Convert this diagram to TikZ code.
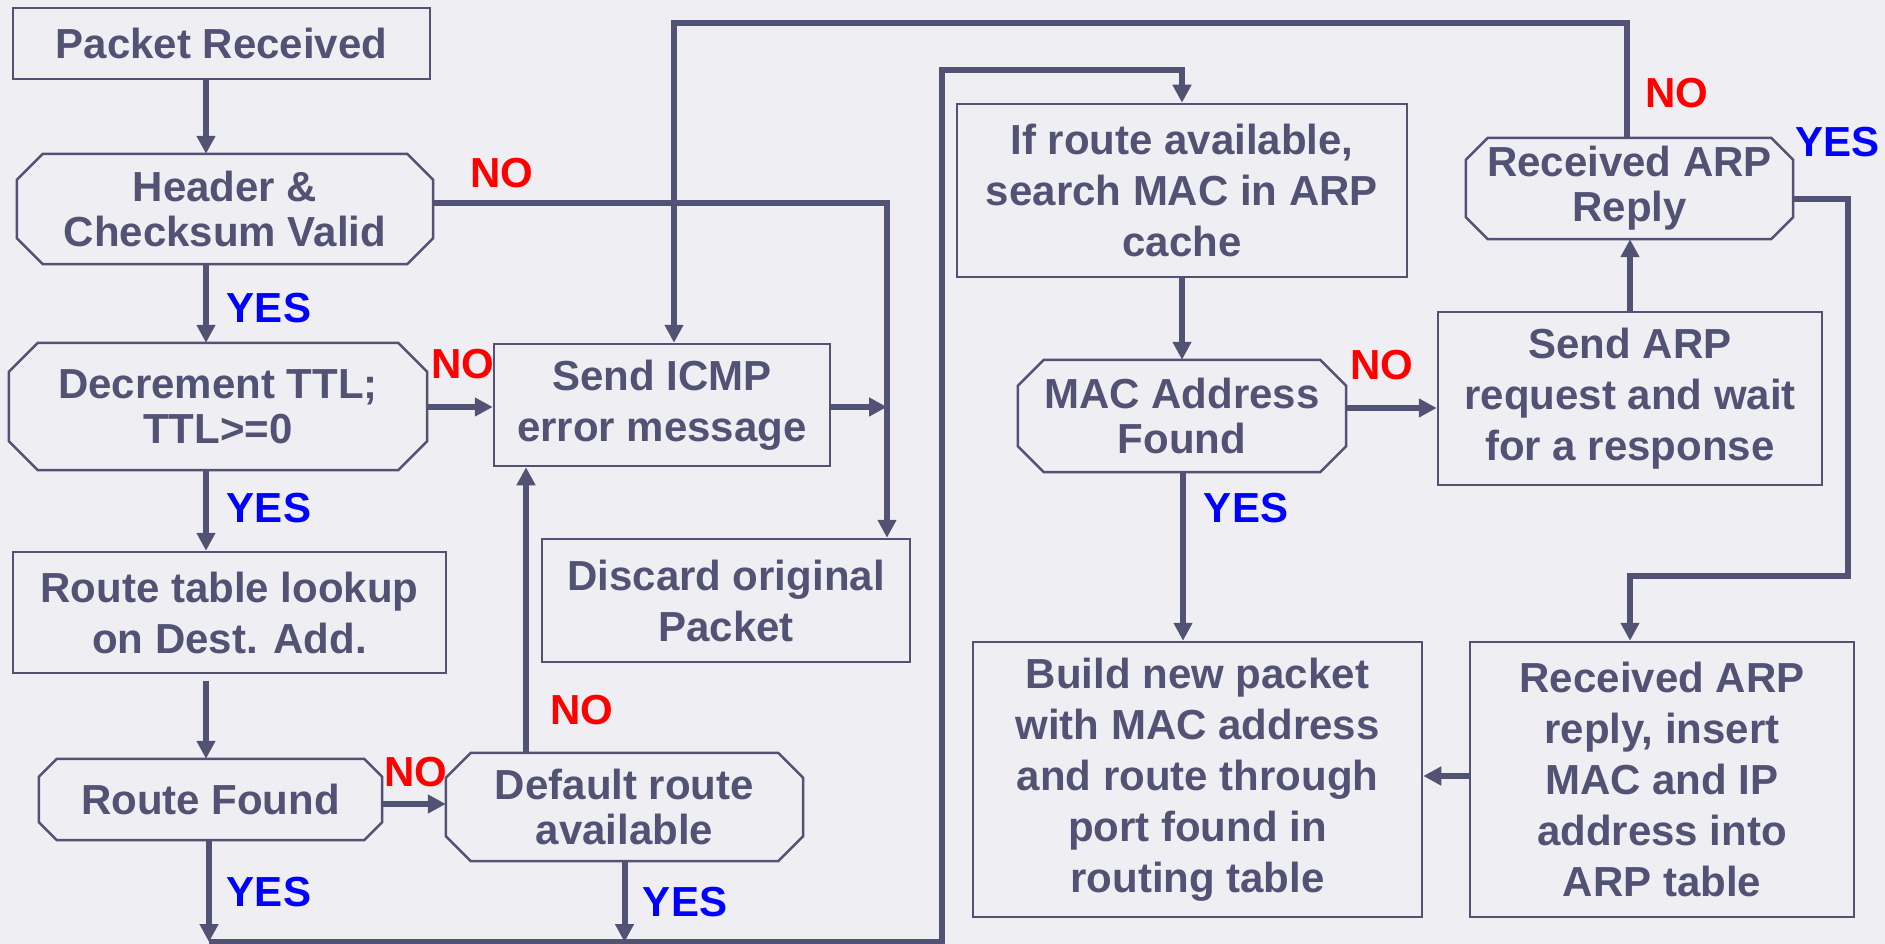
\documentclass[tikz,border=0pt]{standalone}
\usepackage{fontspec}
\setmainfont{Liberation Sans}
\usetikzlibrary{arrows.meta}
\definecolor{ink}{RGB}{82,82,116}
\definecolor{bgcol}{RGB}{239,239,243}
\definecolor{nored}{RGB}{255,0,0}
\definecolor{yesblue}{RGB}{0,0,255}
\newcommand\octframe[2]{\draw[ink, line width=2.5pt, line join=miter]
  ([xshift=#2pt]#1.north west) -- ([xshift=-#2pt]#1.north east) --
  ([yshift=-#2pt]#1.north east) -- ([yshift=#2pt]#1.south east) --
  ([xshift=-#2pt]#1.south east) -- ([xshift=#2pt]#1.south west) --
  ([yshift=#2pt]#1.south west) -- ([yshift=-#2pt]#1.north west) -- cycle;}
\begin{document}
\begin{tikzpicture}[x=1pt,y=-1pt,
  every node/.style={font=\fontsize{42}{51}\selectfont\bfseries, text=ink, align=center, inner sep=0pt},
  procbox/.style={draw=ink, line width=2.5pt, rectangle},
  decbox/.style={rectangle, font=\fontsize{42}{45}\selectfont\bfseries},
  link/.style={draw=ink, line width=6pt},
  arr/.style={link, -{Triangle[length=18pt,width=18pt]}},
  nolab/.style={text=nored},
  yeslab/.style={text=yesblue}]
\fill[bgcol] (0,0) rectangle (1885,944);
\useasboundingbox (0,0) rectangle (1885,944);

% nodes
\node[procbox, minimum width=417pt, minimum height=71pt] (pr) at (221.5,43.5) {Packet Received};
\node[decbox, minimum width=416pt, minimum height=110pt] (hc) at (225,209) {Header \&\\Checksum Valid};
\node[decbox, minimum width=418pt, minimum height=127pt] (dt) at (218,406.5) {Decrement TTL;\\TTL>=0};
\node[procbox, minimum width=433pt, minimum height=121pt] (rt) at (229.5,612.5) {Route table lookup\\on Dest. Add.};
\node[decbox, minimum width=343pt, minimum height=81pt] (rf) at (210.5,799.5) {Route Found};
\node[decbox, minimum width=357pt, minimum height=108pt] (dr) at (624.5,807) {Default route\\available};
\node[procbox, minimum width=336pt, minimum height=122pt] (icmp) at (662,405) {Send ICMP\\error message};
\node[procbox, minimum width=368pt, minimum height=123pt] (disc) at (726,600.5) {Discard original\\Packet};
\node[procbox, minimum width=450pt, minimum height=173pt] (ifr) at (1182,190.5) {If route available,\\search MAC in ARP\\cache};
\node[decbox, minimum width=328pt, minimum height=112pt] (mac) at (1182,416) {MAC Address\\Found};
\node[procbox, minimum width=449pt, minimum height=275pt] (build) at (1197.5,779.5) {Build new packet\\with MAC address\\and route through\\port found in\\routing table};
\node[procbox, minimum width=384pt, minimum height=173pt] (sarp) at (1630,398.5) {Send ARP\\request and wait\\for a response};
\node[decbox, minimum width=327pt, minimum height=101pt] (rarp) at (1629.5,188.5) {Received ARP\\Reply};
\node[procbox, minimum width=384pt, minimum height=275pt] (rins) at (1662,779.5) {Received ARP\\reply, insert\\MAC and IP\\address into\\ARP table};

\octframe{hc}{26}
\octframe{dt}{29}
\octframe{rf}{18}
\octframe{dr}{25}
\octframe{mac}{26}
\octframe{rarp}{22}

% helper coordinates
\coordinate (xa) at (206,0);
\coordinate (bl) at (209,942);
\coordinate (br) at (942,942);
\coordinate (tr) at (942,70);
\coordinate (yrf) at (0,804);
\coordinate (xdr) at (526,0);
\coordinate (j1) at (887,203);
\coordinate (yd) at (0,407);
\coordinate (t1) at (1627,23);
\coordinate (t2) at (674,23);
\coordinate (ym) at (0,408);
\coordinate (xb) at (1183,0);
\coordinate (r1) at (1848,199);
\coordinate (r2) at (1848,576);
\coordinate (r3) at (1630,576);
\coordinate (yr) at (0,776);

% connectors
\draw[arr] (pr.south -| xa) -- (hc.north -| xa);
\draw[arr] (hc.south -| xa) -- (dt.north -| xa);
\draw[arr] (dt.south -| xa) -- (rt.north -| xa);
\draw[arr, shorten <=7pt] (rt.south -| xa) -- (rf.north -| xa);
\draw[arr] (rf.south -| bl) -- (bl);
\draw[arr] (bl) -- (br) -- (tr) -| (ifr.north);
\draw[arr] (rf.east |- yrf) -- (dr.west |- yrf);
\draw[arr] (dr.north -| xdr) -- (icmp.south -| xdr);
\draw[arr] (dr.south) -- (dr.south |- bl);
\draw[arr] (hc.east |- j1) -- (j1) -- (disc.north -| j1);
\draw[arr] (dt.east |- yd) -- (icmp.west |- yd);
\draw[arr] (icmp.east |- yd) -- (j1 |- yd);
\draw[arr] (rarp.north -| t1) -- (t1) -- (t2) -- (icmp.north -| t2);
\draw[arr] (ifr.south) -- (mac.north);
\draw[arr] (mac.east |- ym) -- (sarp.west |- ym);
\draw[arr] (mac.south -| xb) -- (build.north -| xb);
\draw[arr] (sarp.north) -- (sarp.north |- rarp.south);
\draw[arr] (rarp.east |- r1) -- (r1) -- (r2) -- (r3) -- (rins.north -| r3);
\draw[arr] (rins.west |- yr) -- (build.east |- yr);

% labels
\node[nolab] (n1) at (502,173) {NO};
\node[nolab] (n2) at (463,364) {NO};
\node[nolab] (n3) at (416,772) {NO};
\node[nolab] (n4) at (582,710) {NO};
\node[nolab] (n5) at (1382,365) {NO};
\node[nolab] (n6) at (1677,93) {NO};
\node[yeslab] (y1) at (269,308) {YES};
\node[yeslab] (y2) at (269,508) {YES};
\node[yeslab] (y3) at (269,892) {YES};
\node[yeslab] (y4) at (685,902) {YES};
\node[yeslab] (y5) at (1246,508) {YES};
\node[yeslab] (y6) at (1837,142) {YES};
\end{tikzpicture}
\end{document}
